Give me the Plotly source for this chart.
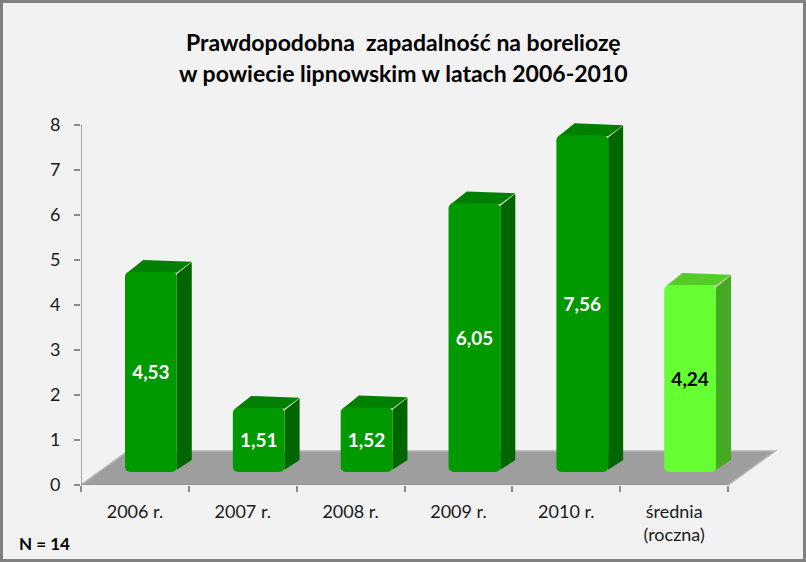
import plotly.graph_objects as go

# ---- data ----
categories = ["2006 r.", "2007 r.", "2008 r.", "2009 r.", "2010 r.", "średnia<br>(roczna)"]
values = [4.53, 1.51, 1.52, 6.05, 7.56, 4.24]
front_colors = ["#009900", "#009900", "#009900", "#009900", "#009900", "#66FF33"]
side_colors = ["#006600", "#006600", "#006600", "#006600", "#006600", "#44AA22"]
top_colors = ["#007F00", "#007F00", "#007F00", "#007F00", "#007F00", "#55CC2A"]
label_colors = ["white", "white", "white", "white", "white", "black"]
title_lines = ["Prawdopodobna  zapadalność na boreliozę", "w powiecie lipnowskim w latach 2006-2010"]
note = "N = 14"

W, H = 806, 562
ML, MR, MT, MB = 81, 24, 111, 77
XR = [-0.5, 6.0]
YR = [0, 8.3]
FONT = "Lato"

# 3D geometry (in axis units)
base = 0.29          # bars sit slightly above the floor front edge
lift = 0.2           # perspective lift of the front-face top
off, bw = -0.092, 0.48
ddx, ddy = 0.139, 0.266     # bar depth
fdx, fdy = 0.436, 0.754     # floor depth

def px2paperx(p):
    return (p - ML) / (W - ML - MR)

def px2papery(p):
    return 1 - (p - MT) / (H - MT - MB)

fig = go.Figure()

heights = [v + lift - base for v in values]
texts = [f"{v:.2f}".replace(".", ",") for v in values]

fig.add_trace(go.Bar(
    x=categories, y=heights, base=[base] * len(values),
    width=bw, offset=off,
    marker=dict(color=front_colors, line=dict(width=0), cornerradius=5),
    text=texts, textposition="inside", insidetextanchor="middle",
    textangle=0,
    textfont=dict(family=FONT, size=19, color=label_colors, weight="bold"),
    hoverinfo="skip",
))

shapes = []
# floor
shapes.append(dict(
    type="path", xref="x", yref="y", layer="below",
    path=f"M {-0.5},{0} L {5.5},{0} L {5.5 + fdx},{fdy} L {-0.5 + fdx},{fdy} Z",
    fillcolor="#9E9E9E", line=dict(color="#B4B4B4", width=1.5),
))
# axis lines
shapes.append(dict(type="line", xref="x", yref="y", x0=-0.5, x1=5.5, y0=0, y1=0,
                   line=dict(color="#8C8C8C", width=1.5), layer="above"))
shapes.append(dict(type="line", xref="x", yref="y", x0=-0.5, x1=-0.5, y0=0, y1=8,
                   line=dict(color="#8C8C8C", width=1.5), layer="above"))

for i, v in enumerate(values):
    xl = i + off
    xr = xl + bw
    top = v + lift
    shapes.append(dict(
        type="path", xref="x", yref="y", layer="below",
        path=f"M {xr},{base + 0.05} L {xr},{top - 0.05} L {xr + ddx},{top + ddy - 0.05} L {xr + ddx},{base + ddy} Z",
        fillcolor=side_colors[i], line=dict(width=0),
    ))
    shapes.append(dict(
        type="path", xref="x", yref="y", layer="below",
        path=f"M {xl + 0.02},{top - 0.02} L {xr},{top - 0.02} L {xr + ddx},{top + ddy - 0.04} L {xl + ddx + 0.03},{top + ddy} Z",
        fillcolor=top_colors[i], line=dict(width=0),
    ))

# outer border
shapes.append(dict(
    type="rect", xref="paper", yref="paper",
    x0=px2paperx(1.5), x1=px2paperx(804.5), y0=px2papery(560.5), y1=px2papery(1.5),
    line=dict(color="#808080", width=3), fillcolor="rgba(0,0,0,0)", layer="above",
))

annotations = [
    dict(text=title_lines[0], xref="paper", yref="paper", x=px2paperx(403), y=px2papery(42),
         showarrow=False, xanchor="center", yanchor="middle",
         font=dict(family=FONT, size=23, color="black", weight="bold")),
    dict(text=title_lines[1], xref="paper", yref="paper", x=px2paperx(403), y=px2papery(73),
         showarrow=False, xanchor="center", yanchor="middle",
         font=dict(family=FONT, size=23, color="black", weight="bold")),
    dict(text=note, xref="paper", yref="paper", x=px2paperx(17), y=px2papery(543),
         showarrow=False, xanchor="left", yanchor="middle",
         font=dict(family=FONT, size=17, color="black", weight="bold")),
]

fig.update_layout(
    width=W, height=H,
    margin=dict(l=ML, r=MR, t=MT, b=MB, pad=0),
    paper_bgcolor="#F2F2F2", plot_bgcolor="rgba(0,0,0,0)",
    showlegend=False,
    shapes=shapes, annotations=annotations,
    xaxis=dict(
        type="category", categoryorder="array", categoryarray=categories,
        range=XR, showgrid=False, zeroline=False, showline=False,
        ticks="outside", tickson="boundaries", ticklen=6, tickcolor="#8C8C8C", tickwidth=1.5,
        ticklabelstandoff=14,
        tickfont=dict(family=FONT, size=18, color="#1a1a1a"),
        fixedrange=True,
    ),
    yaxis=dict(
        range=YR, tickvals=list(range(0, 9)), showgrid=False, zeroline=False, showline=False,
        ticks="outside", ticklen=6, tickcolor="#8C8C8C", tickwidth=1.5,
        ticklabelstandoff=10,
        tickfont=dict(family=FONT, size=18, color="#1a1a1a"),
        fixedrange=True,
    ),
)

fig.write_html("out.html")
